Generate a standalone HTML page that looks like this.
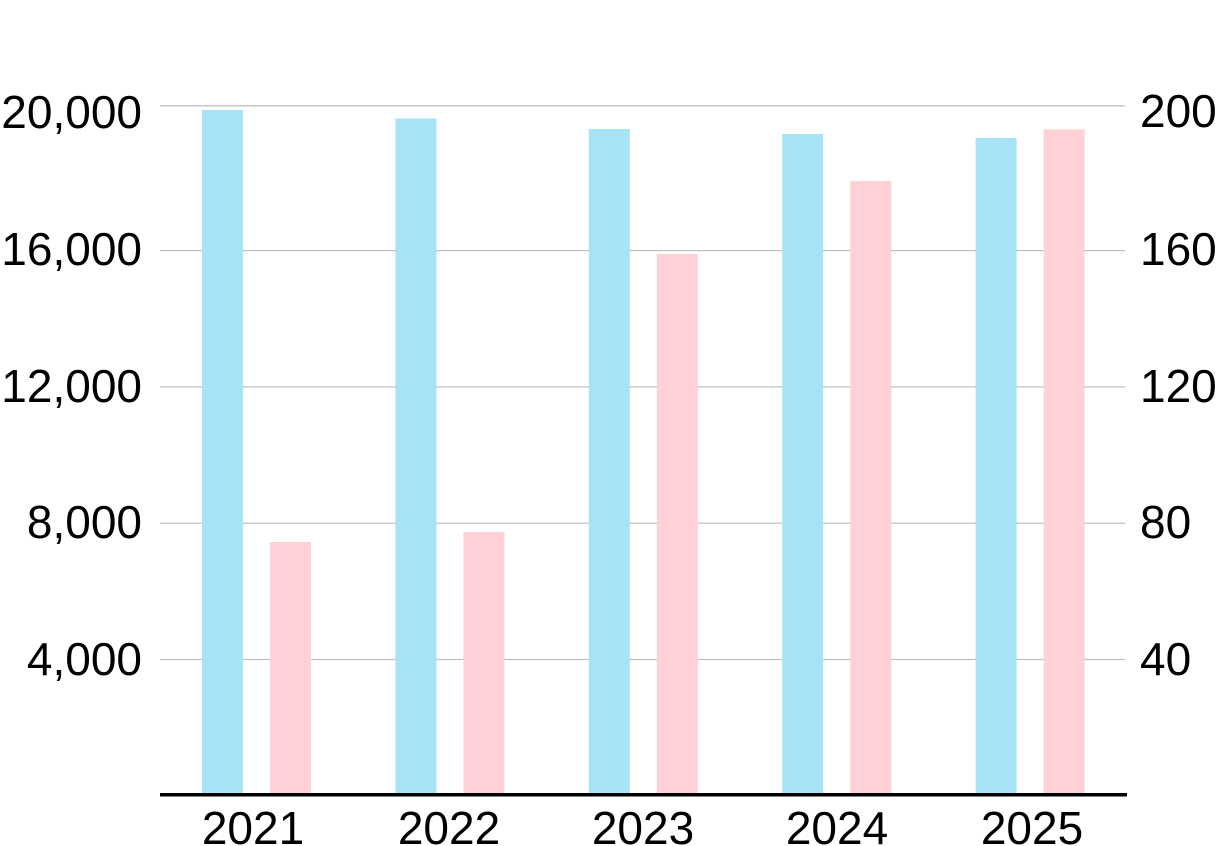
<!DOCTYPE html>
<html>
<head>
<meta charset="utf-8">
<style>
  html, body { margin: 0; padding: 0; background: #ffffff; }
  svg { display: block; }
  text { font-family: "Liberation Sans", "DejaVu Sans", sans-serif; font-size: 46px; fill: #000; }
</style>
</head>
<body>
<svg width="1225" height="846" viewBox="0 0 1225 846" xmlns="http://www.w3.org/2000/svg">
  <rect x="0" y="0" width="1225" height="846" fill="#ffffff"/>
  <!-- gridlines -->
  <g fill="#bfbfbf">
    <rect x="160" y="105.2" width="965" height="1.3"/>
    <rect x="160" y="250" width="965" height="1.2"/>
    <rect x="160" y="386.3" width="965" height="1.2"/>
    <rect x="160" y="522.6" width="965" height="1.2"/>
    <rect x="160" y="658.9" width="965" height="1.2"/>
  </g>
  <!-- bars blue -->
  <g fill="#a6e3f7">
    <rect x="202" y="110" width="41" height="685"/>
    <rect x="395.4" y="118.5" width="41" height="676.5"/>
    <rect x="588.8" y="129" width="41" height="666"/>
    <rect x="782.2" y="134" width="41" height="661"/>
    <rect x="975.6" y="138" width="41" height="657"/>
  </g>
  <!-- bars pink -->
  <g fill="#ffd1d6">
    <rect x="270" y="542" width="41" height="253"/>
    <rect x="463.4" y="532" width="41" height="263"/>
    <rect x="656.8" y="254" width="41" height="541"/>
    <rect x="850.2" y="181" width="41" height="614"/>
    <rect x="1043.6" y="129.3" width="41" height="665.7"/>
  </g>
  <!-- axis line -->
  <rect x="160" y="793" width="967" height="3.5" fill="#000"/>
  <!-- left labels -->
  <g text-anchor="end">
    <text x="142" y="128">20,000</text>
    <text x="142" y="265">16,000</text>
    <text x="142" y="402">12,000</text>
    <text x="142" y="538">8,000</text>
    <text x="142" y="675">4,000</text>
  </g>
  <!-- right labels -->
  <g text-anchor="start">
    <text x="1140" y="127">200</text>
    <text x="1140" y="265">160</text>
    <text x="1140" y="402">120</text>
    <text x="1140" y="538">80</text>
    <text x="1140" y="675">40</text>
  </g>
  <!-- bottom labels -->
  <g text-anchor="middle">
    <text x="253" y="844">2021</text>
    <text x="449" y="844">2022</text>
    <text x="643" y="844">2023</text>
    <text x="837" y="844">2024</text>
    <text x="1032" y="844">2025</text>
  </g>
</svg>
</body>
</html>
